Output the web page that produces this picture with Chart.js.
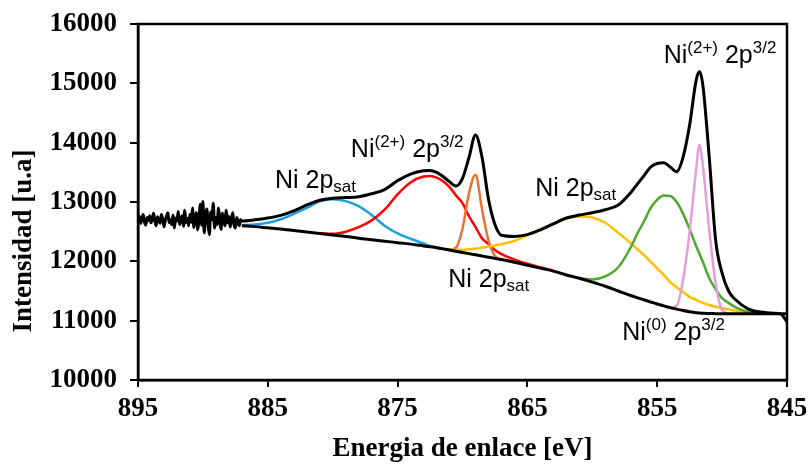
<!DOCTYPE html>
<html>
<head>
<meta charset="utf-8">
<script src="https://cdn.jsdelivr.net/npm/chart.js@4.4.1/dist/chart.umd.min.js"></script>
<style>
  html, body { margin: 0; padding: 0; background: #fff; }
  #wrap { width: 812px; height: 465px; }
</style>
</head>
<body>
<div id="wrap"><canvas id="xps"></canvas></div>
<script>
// noisy start of the measured spectrum (895 -> 887.1 eV)
const noiseEnergy = [895, 894.9, 894.8, 894.7, 894.6, 894.5, 894.4, 894.3, 894.2, 894.1,
  894, 893.9, 893.8, 893.7, 893.6, 893.5, 893.4, 893.3, 893.2, 893.1,
  893, 892.9, 892.8, 892.7, 892.6, 892.5, 892.4, 892.3, 892.2, 892.1,
  892, 891.9, 891.8, 891.7, 891.6, 891.5, 891.4, 891.3, 891.2, 891.1,
  891, 890.9, 890.8, 890.7, 890.6, 890.5, 890.4, 890.3, 890.2, 890.1,
  890, 889.9, 889.8, 889.7, 889.6, 889.5, 889.4, 889.3, 889.2, 889.1,
  889, 888.9, 888.8, 888.7, 888.6, 888.5, 888.4, 888.3, 888.2, 888.1,
  888, 887.9, 887.8, 887.7, 887.6, 887.5, 887.4, 887.3, 887.2, 887.1];
const noiseCounts = [12700, 12760, 12640, 12720, 12790, 12660, 12610, 12740, 12690, 12770,
  12650, 12720, 12810, 12680, 12600, 12750, 12700, 12640, 12790, 12720,
  12580, 12690, 12760, 12820, 12650, 12700, 12620, 12780, 12560, 12730,
  12680, 12840, 12620, 12710, 12770, 12590, 12860, 12650, 12720, 12600,
  12790, 12660, 12900, 12570, 12750, 12820, 12530, 12700, 12960, 12610,
  13010, 12480, 12760, 12880, 12620, 12450, 12830, 12700, 12980, 12560,
  12740, 12620, 12900, 12680, 12540, 12810, 12720, 12600, 12860, 12650,
  12760, 12580, 12700, 12820, 12620, 12560, 12740, 12680, 12600, 12700];

// smooth part, shared energy grid for envelope, background and fitted peaks
const energy = [887, 886, 885, 884, 883, 882, 881, 880, 879, 878, 877, 876, 875, 874, 873,
  872.5, 872, 871.5, 871, 870.5, 870, 869.5, 869, 868.5, 868, 867.5, 867,
  866, 865, 864, 863, 862, 861, 860, 859, 858, 857,
  856.5, 856, 855.5, 855, 854.5, 854, 853.5, 853, 852.5, 852,
  851.75, 851.5, 851, 850.5, 850, 849.5, 849,
  848, 847, 846, 845.5, 845];

const envelope = [12680, 12700, 12730, 12775, 12850, 12950, 13030, 13065, 13075, 13090, 13140, 13210, 13360, 13470, 13525,
  13530, 13500, 13430, 13340, 13270, 13400, 13750, 14130, 13760, 13050, 12620, 12440,
  12420, 12450, 12530, 12630, 12730, 12780, 12820, 12870, 12950, 13170,
  13310, 13450, 13590, 13650, 13660, 13590, 13510, 13760, 14300, 15050,
  15200, 15000, 13780, 12360, 11800, 11500, 11360,
  11200, 11145, 11125, 11115, 10980];

const background = [12600, 12585, 12565, 12545, 12520, 12495, 12470, 12445, 12420, 12390, 12365, 12340, 12315, 12290, 12260,
  12245, 12230, 12210, 12190, 12170, 12150, 12130, 12110, 12090, 12070, 12050, 12030,
  11985, 11935, 11885, 11835, 11770, 11715, 11650, 11580, 11500, 11420,
  11385, 11350, 11315, 11280, 11250, 11220, 11195, 11170, 11150, 11135,
  11128, 11125, 11120, 11118, 11115, 11115, 11115,
  11115, 11115, 11115, 11115, 11115];

const satHigh = [12610, 12620, 12650, 12710, 12800, 12900, 13010, 13045, 13015, 12930, 12780, 12600, 12470, 12380, 12300,
  12260, 12230, 12210, 12190, 12170, 12150, null, null, null, null, null, null,
  null, null, null, null, null, null, null, null, null, null,
  null, null, null, null, null, null, null, null, null, null,
  null, null, null, null, null, null, null,
  null, null, null, null, null];

const ni2Broad = [null, null, null, null, null, null, 12470, 12465, 12500, 12575, 12690, 12870, 13130, 13330, 13430,
  13438, 13410, 13350, 13250, 13110, 12980, 12760, 12580, 12390, 12290, 12190, 12120,
  12030, 11960, 11900, 11840, null, null, null, null, null, null,
  null, null, null, null, null, null, null, null, null, null,
  null, null, null, null, null, null, null,
  null, null, null, null, null];

const ni2Sharp = [null, null, null, null, null, null, null, null, null, null, null, null, null, null, null,
  null, null, null, 12195, 12230, 12550, 13150, 13460, 12880, 12350, 12090, 12030,
  11985, null, null, null, null, null, null, null, null, null,
  null, null, null, null, null, null, null, null, null, null,
  null, null, null, null, null, null, null,
  null, null, null, null, null];

const satLow = [null, null, null, null, null, null, null, null, null, null, null, null, null, null, null,
  null, 12235, 12215, 12200, 12192, 12195, 12205, 12215, 12232, 12248, 12268, 12290,
  12345, 12440, 12540, 12640, 12720, 12755, 12740, 12650, 12480, 12300,
  12200, 12100, 11990, 11880, 11770, 11650, 11560, 11480, 11400, 11350,
  11325, 11300, 11265, 11235, 11210, 11190, 11170,
  11140, 11120, null, null, null];

const ni2Main = [null, null, null, null, null, null, null, null, null, null, null, null, null, null, null,
  null, null, null, null, null, null, null, null, null, null, null, null,
  null, null, null, 11835, 11775, 11720, 11695, 11745, 11900, 12250,
  12480, 12680, 12900, 13040, 13110, 13100, 13000, 12800, 12540, 12260,
  12130, 12000, 11720, 11530, 11380, 11300, 11230,
  11150, 11120, null, null, null];

const ni0Main = [null, null, null, null, null, null, null, null, null, null, null, null, null, null, null,
  null, null, null, null, null, null, null, null, null, null, null, null,
  null, null, null, null, null, null, null, null, null, null,
  null, null, null, null, null, 11220, 11250, 11700, 12500, 13550,
  13960, 13650, 12550, 11630, 11180, 11118, null,
  null, null, null, null, null];

const toPoints = (xs, ys) => xs.map((x, i) => ({ x: x, y: ys[i] }));

const serifFamily = '"Liberation Serif", "Times New Roman", serif';
const serif = { family: serifFamily, size: 27, weight: 'bold' };

const line = (data, color, width) => ({
  data: data,
  borderColor: color,
  borderWidth: width,
  pointRadius: 0,
  fill: false,
  cubicInterpolationMode: 'monotone',
  spanGaps: false
});

// text labels, placed in data coordinates; parts: [text, 0 normal | 1 sup | -1 sub]
const peakLabels = [
  { x: 884.45, y: 13236, parts: [['Ni 2p', 0], ['sat', -1]] },
  { x: 878.6, y: 13758, parts: [['Ni', 0], ['(2+)', 1], [' 2p', 0], ['3/2', 1]] },
  { x: 864.4, y: 13101, parts: [['Ni 2p', 0], ['sat', -1]] },
  { x: 871.1, y: 11567, parts: [['Ni 2p', 0], ['sat', -1]] },
  { x: 854.5, y: 15343, parts: [['Ni', 0], ['(2+)', 1], [' 2p', 0], ['3/2', 1]] },
  { x: 857.7, y: 10674, parts: [['Ni', 0], ['(0)', 1], [' 2p', 0], ['3/2', 1]] }
];

const labelPlugin = {
  id: 'peakLabels',
  afterDraw(chart) {
    const ctx = chart.ctx;
    const xs = chart.scales.x, ys = chart.scales.y;
    const a = chart.chartArea;
    ctx.save();
    // frame on top and right
    ctx.strokeStyle = '#000';
    ctx.lineWidth = 2.5;
    ctx.strokeRect(a.left, a.top, a.right - a.left, a.bottom - a.top);
    ctx.fillStyle = '#000';
    ctx.textBaseline = 'alphabetic';
    ctx.textAlign = 'left';
    peakLabels.forEach(lbl => {
      let px = xs.getPixelForValue(lbl.x);
      const py = ys.getPixelForValue(lbl.y);
      lbl.parts.forEach(([txt, kind]) => {
        ctx.font = (kind === 0 ? '25px' : '17px') + ' "Liberation Sans", Arial, sans-serif';
        const dy = kind === 1 ? -10 : (kind === -1 ? 4 : 0);
        ctx.fillText(txt, px, py + dy);
        px += ctx.measureText(txt).width;
      });
    });
    // y axis title (sits lower than the plot centre in the original)
    ctx.translate(24, 241);
    ctx.rotate(-Math.PI / 2);
    ctx.font = 'bold 27px ' + serifFamily;
    ctx.textAlign = 'center';
    ctx.textBaseline = 'middle';
    ctx.fillText('Intensidad [u.a]', 0, 0);
    ctx.restore();
  }
};

new Chart(document.getElementById('xps'), {
  type: 'line',
  data: {
    datasets: [
      line(toPoints(noiseEnergy, noiseCounts).concat(toPoints(energy, envelope)), '#000000', 3),
      line(toPoints(energy, background), '#000000', 3),
      line(toPoints(energy, ni0Main), '#e59edd', 2.5),
      line(toPoints(energy, ni2Main), '#4ea72e', 2.5),
      line(toPoints(energy, satLow), '#ffc000', 2.5),
      line(toPoints(energy, ni2Sharp), '#e97132', 2.5),
      line(toPoints(energy, ni2Broad), '#ff0000', 2.5),
      line(toPoints(energy, satHigh), '#1ba1e2', 2.5)
    ]
  },
  options: {
    responsive: true,
    maintainAspectRatio: false,
    animation: false,
    layout: { padding: { left: 0, right: 25, top: 24, bottom: 0 } },
    plugins: {
      legend: { display: false },
      tooltip: { enabled: false }
    },
    scales: {
      x: {
        type: 'linear',
        reverse: true,
        min: 845,
        max: 895,
        ticks: { stepSize: 10, color: '#000', font: serif, padding: 6, maxRotation: 0 },
        grid: { drawOnChartArea: false, drawTicks: true, tickLength: 7, color: '#000', lineWidth: 2 },
        border: { color: '#000', width: 2.5 },
        title: { display: true, text: 'Energia de enlace [eV]', color: '#000', font: serif, padding: 0 },
        afterFit: s => { s.height = 85; s.paddingLeft = 0; s.paddingRight = 0; }
      },
      y: {
        min: 10000,
        max: 16000,
        ticks: { stepSize: 1000, color: '#000', font: serif, padding: 13, callback: v => String(v) },
        grid: { drawOnChartArea: false, drawTicks: true, tickLength: 8, color: '#000', lineWidth: 2 },
        border: { color: '#000', width: 2.5 },
        afterFit: s => { s.width = 138; s.paddingTop = 0; s.paddingBottom = 0; }
      }
    }
  },
  plugins: [labelPlugin]
});
</script>
</body>
</html>
